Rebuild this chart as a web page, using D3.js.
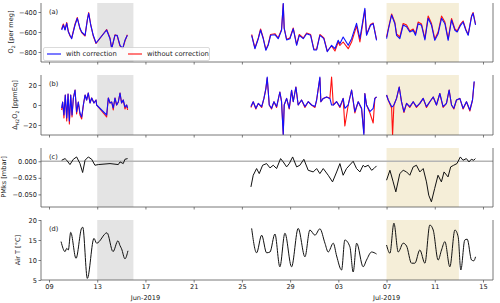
<!DOCTYPE html>
<html>
<head>
<meta charset="utf-8">
<script src="https://cdn.jsdelivr.net/npm/d3@7"></script>
<style>
body { margin: 0; background: #fff; }
svg { display: block; font-family: "DejaVu Sans", sans-serif; }
</style>
</head>
<body>
<div id="chart"></div>
<script>
// days are counted as day-of-June 2019 (July 1 = 31); null = gap in the record
var tickDays = [9, 13, 17, 21, 25, 29, 33, 37, 41, 45];
var tickLabels = ["09", "13", "17", "21", "25", "29", "03", "07", "11", "15"];
var monthDays = [17, 37];
var monthLabels = ["Jun-2019", "Jul-2019"];
var greySpan = [13, 16];
var tanSpan = [37, 43];

var o2Days = [10.05, 10.19, 10.33, 10.47, 10.60, 10.74, 10.88, 11.02, 11.16, 11.35, 11.57, 11.71, 11.99, 12.18, 12.29, 12.46, 12.67, 12.90, 13.78, 14.06, 14.20, 14.47, 14.66, 14.89, 15.11, 15.30, 15.50,
    20,
    25.81, 26.08, 26.36, 26.55, 26.77, 26.99, 27.18, 27.38, 27.74, 28.01, 28.29, 28.43, 28.51, 28.71, 28.98, 29.26, 29.54, 29.76, 30.09, 30.37, 30.70, 30.97, 31.20, 31.47, 31.80, 32.08, 32.44, 32.72, 32.99, 33.13, 33.40, 33.82, 34.10, 34.51, 34.79, 35.20, 35.34, 35.67, 35.89, 36.17,
    36.6,
    37.00, 37.14, 37.42, 37.69, 37.83, 38.10, 38.38, 38.66, 38.93, 39.21, 39.40, 39.62, 39.90, 40.18, 40.45, 40.73, 41.00, 41.28, 41.56, 41.84, 42.11, 42.39, 42.67, 42.86, 43.14, 43.35, 43.58, 43.77, 44.05, 44.18, 44.38];
var o2With = [-580, -530, -580, -513, -597, -633, -667, -597, -530, -463, -563, -600, -633, -480, -413, -530, -633, -710, -580, -667, -763, -633, -633, -733, -763, -683, -633,
    null,
    -633, -767, -667, -580, -667, -783, -733, -633, -627, -667, -583, -313, -567, -680, -667, -567, -733, -633, -667, -617, -633, -780, -780, -633, -667, -797, -733, -767, -683, -717, -650, -733, -667, -513, -667, -363, -633, -533, -517, -683,
    null,
    -667, -580, -430, -517, -633, -667, -530, -547, -600, -583, -633, -517, -533, -680, -463, -533, -683, -617, -463, -517, -683, -480, -583, -600, -533, -500, -583, -633, -447, -413, -530];
var o2Without = [-570, -520, -575, -505, -590, -640, -660, -590, -520, -455, -570, -605, -640, -475, -405, -525, -640, -715, -575, -660, -770, -628, -640, -740, -770, -690, -628,
    null,
    -625, -760, -660, -570, -660, -775, -725, -625, -617, -660, -575, -320, -560, -672, -660, -560, -725, -625, -660, -610, -625, -772, -772, -625, -660, -790, -740, -790, -700, -735, -700, -767, -700, -540, -700, -380, -625, -525, -510, -675,
    null,
    -650, -570, -420, -505, -620, -650, -515, -530, -590, -570, -620, -500, -520, -665, -440, -515, -670, -600, -440, -500, -670, -465, -570, -590, -520, -490, -575, -625, -440, -405, -520];

var dDays = [10.05, 10.13, 10.24, 10.35, 10.47, 10.58, 10.69, 10.80, 10.91, 11.02, 11.16, 11.29, 11.43, 11.57, 11.71, 11.85, 11.99, 12.12, 12.26, 12.40, 12.54, 12.73, 12.90, 12.95, 13.78, 13.92, 14.06, 14.20, 14.33, 14.47, 14.61, 14.75, 14.89, 15.02, 15.16, 15.30, 15.44, 15.52,
    20,
    25.75, 25.94, 26.16, 26.36, 26.64, 26.83, 26.99, 27.10, 27.27, 27.46, 27.66, 27.88, 28.15, 28.29, 28.43, 28.51, 28.71, 28.93, 29.12, 29.26, 29.48, 29.67, 29.95, 30.23, 30.50, 30.78, 31.06, 31.20, 31.47, 31.55, 31.75, 32.03, 32.30, 32.44, 32.58, 32.86, 33.13, 33.40, 33.54, 33.82, 34.10, 34.37, 34.65, 34.93, 35.12, 35.20, 35.34, 35.62, 35.89, 36.03, 36.17,
    36.6,
    37.00, 37.14, 37.42, 37.50, 37.61, 37.83, 38.05, 38.24, 38.44, 38.66, 38.93, 39.21, 39.48, 39.76, 40.04, 40.31, 40.59, 40.87, 41.14, 41.42, 41.69, 41.97, 42.19, 42.39, 42.58, 42.80, 43.08, 43.35, 43.63, 43.91, 44.13, 44.27];
var dWith = [-3, 3, -10, 10, -13, 11, -16, 10, -10, 7, 15, -7, 3, -8, -12, 0, 10, 5, 12, 2, 7, 2, 5, 0, -10, 7, 2, 3, -3, 7, 0, 3, 12, 2, 5, -2, 0, -3,
    null,
    -1.6, 3.3, -3.3, 1.6, -1.6, 6.6, 16.4, 28, 0, -3.3, 3.3, -1.6, 13, 3.3, -30, 0, 6.6, -3.3, 14.8, 3.3, 18, 0, 5, -1.6, 3.3, 0, -1.6, 5, 28, 3.3, 6.6, 8, 6.6, 0, 0, 3.3, -1.6, 6.6, -3.3, 0, 15, -6.6, 3.3, -3.3, -30, 11.5, 0, -6.6, -3.3, 6.6, 8,
    null,
    10, 5, -1.6, -1.6, 0, 6.6, 18, 3.3, -6.6, 1.6, -1.6, 3.3, -1.6, 1.6, 6.6, -1.6, 3.3, 8, 0, 11.5, -1.6, 1.6, 15, 0, -3.3, 5, 6.6, -3.3, 3.3, -5, 5, 23.7];
var dWithout = [-5, 3, -13, 10, -16, 11, -19, 10, -12, 7, 15, -9, 3, -10, -14, 0, 10, 5, 12, 2, 7, 2, 5, 0, -12, 7, 2, 3, -5, 7, 0, 3, 12, 2, 5, -4, 0, -5,
    null,
    -2.5, 3.3, -4, 1.6, -2.5, 6.6, 16.4, 27, 0, -4, 3.3, -2.5, 13, 3.3, -29, 0, 6.6, -4, 14.8, 3.3, 18, 0, 5, -2.5, 3.3, 0, -2.5, 5, 27, 3.3, 6.6, 8, 6.6, 28, 0, 3.3, -2.5, 6.6, -21, 0, 15, -8, 3.3, -4, -28, 11.5, 0, -8, -18, 6.6, 8,
    null,
    10, 5, -3, -30, 0, 6.6, 18, 3.3, -7.5, 1.6, -2.5, 3.3, -2.5, 1.6, 6.6, -2.5, 3.3, 8, 0, 11.5, -2.5, 1.6, 15, 0, -4, 5, 6.6, -4, 3.3, -6, 5, 23];

var pmDays = [10.05, 10.33, 10.47, 10.74, 11.02, 11.29, 11.57, 11.79, 11.99, 12.26, 12.54, 12.81, 13.09, 14.06, 14.75, 14.89, 15.16, 15.30, 15.52,
    20,
    25.75, 25.94, 26.22, 26.44, 26.72, 27.05, 27.33, 27.60, 27.88, 28.21, 28.43, 28.71, 28.93, 29.21, 29.54, 29.81, 30.14, 30.50, 30.92, 31.20, 31.47, 31.75, 32.16, 32.52, 32.86, 33.13, 33.40, 33.68, 34.23, 34.51, 34.79, 35.06, 35.20, 35.48, 35.76, 35.95, 36.17,
    36.6,
    37.00, 37.28, 37.55, 37.77, 38.10, 38.38, 38.66, 38.93, 39.21, 39.48, 39.76, 40.04, 40.31, 40.50, 40.72, 40.99, 41.27, 41.55, 41.77, 42.10, 42.32, 42.57, 42.84, 43.12, 43.34, 43.62, 43.84, 44.03, 44.23, 44.37];
var pmValues = [0.0015, 0.004, 0.0015, -0.005, 0.003, 0.0065, -0.0035, -0.017, 0.0015, 0.0065, 0.003, -0.006, -0.005, -0.0035, -0.005, -0.001, -0.0035, 0.003, 0.004,
    null,
    -0.0387, -0.0211, -0.0110, -0.0186, -0.0060, -0.0035, -0.0100, -0.0060, -0.0110, 0.0040, -0.0010, -0.0085, -0.0035, 0.0065, -0.0085, -0.0060, 0.0030, -0.0136, -0.0161, -0.0110, -0.0186, -0.0110, -0.0211, -0.0311, -0.0161, -0.0035, -0.0211, -0.0110, 0.0000, -0.0110, -0.0161, -0.0060, -0.0085, -0.0060, -0.0136, -0.0110, -0.0070,
    null,
    -0.0286, -0.0136, -0.0311, -0.0462, -0.0186, -0.0136, -0.0161, -0.0211, -0.0085, -0.0060, -0.0161, -0.0110, -0.0311, -0.0512, -0.0612, -0.0412, -0.0211, -0.0311, -0.0161, -0.0236, -0.0085, -0.0060, -0.0035, 0.0065, 0.0015, 0.0040, -0.0010, 0.0030, 0.0015, 0.0040];

var airDays = [10.00, 10.33, 10.47, 10.60, 10.80, 11.24, 11.71, 11.80, 12.18, 12.73, 12.95, 13.81, 14.31, 14.72, 14.89, 15.02, 15.30, 15.55,
    20,
    25.81, 26.22, 26.64, 27.05, 27.33, 27.74, 28.15, 28.57, 29.12, 29.67, 30.23, 30.64, 31.06, 31.47, 31.89, 32.16, 32.58, 32.86, 33.27, 33.54, 33.96, 34.23, 34.52, 35.06, 35.34, 35.76, 36.17,
    36.6,
    37.00, 37.28, 37.61, 37.97, 38.38, 38.66, 39.07, 39.35, 39.76, 40.18, 40.59, 40.87, 41.28, 41.56, 41.84, 42.25, 42.67, 42.94, 43.16, 43.49, 43.69, 44.05, 44.24, 44.38];
var airValues = [14.6, 12.1, 12.9, 12.5, 16.9, 10.4, 18.0, 18.2, 5.4, 15.4, 14.2, 16.8, 12.1, 14.8, 13.6, 12.8, 10.3, 12.3,
    null,
    17.9, 11.8, 16.2, 11.8, 12.0, 16.5, 8.3, 16.7, 8.3, 17.9, 10.8, 17.5, 16.2, 17.8, 14.2, 12.0, 14.2, 11.0, 7.5, 15.0, 13.3, 7.0, 14.2, 8.3, 10.0, 12.0, 11.5,
    null,
    13.75, 11.7, 19.2, 12.0, 14.2, 13.5, 9.2, 9.2, 12.5, 9.2, 18.75, 17.5, 10.0, 12.5, 14.6, 8.3, 17.5, 15.8, 7.5, 15.0, 15.2, 10.0, 9.8, 10.8];

function toDate(d) {
    return new Date(Date.UTC(2019, 5, 1) + (d - 1) * 864e5);
}

function zip(days, vals) {
    return days.map(function(d, i) { return {t: toDate(d), v: vals[i]}; });
}

var fs = 6.6;
var ink = "#222";

var svg = d3.select("#chart").append("svg")
    .attr("width", 500)
    .attr("height", 303);

var x = d3.scaleUtc()
    .domain([toDate(8.336), toDate(45.83)])
    .range([41, 493]);

var panels = [
    {top: 3, bottom: 62, domain: [-900, -310], ticks: [-800, -600, -400], fmt: d3.format("d"), tag: "(a)", labelX: 13},
    {top: 75, bottom: 135, domain: [-30, 30], ticks: [-20, 0, 20], fmt: d3.format("d"), tag: "(b)", labelX: 17},
    {top: 148, bottom: 207, domain: [-0.069, 0.020], ticks: [-0.05, -0.025, 0], fmt: d3.format(".3f"), tag: "(c)", labelX: 6},
    {top: 220, bottom: 280, domain: [5, 20], ticks: [5, 10, 15, 20], fmt: d3.format("d"), tag: "(d)", labelX: 20}
];

var series = [
    [{data: zip(o2Days, o2Without), color: "#ff1010", w: 1.1}, {data: zip(o2Days, o2With), color: "#1010ff", w: 1.1}],
    [{data: zip(dDays, dWithout), color: "#ff1010", w: 1.1}, {data: zip(dDays, dWith), color: "#1010ff", w: 1.1}],
    [{data: zip(pmDays, pmValues), color: "#111", w: 1}],
    [{data: zip(airDays, airValues), color: "#111", w: 1, curve: d3.curveMonotoneX}]
];

panels.forEach(function(p, k) {
    var y = d3.scaleLinear().domain(p.domain).range([p.bottom, p.top]);
    var g = svg.append("g");

    g.append("clipPath").attr("id", "clip" + k)
        .append("rect")
        .attr("x", 41).attr("y", p.top)
        .attr("width", 452).attr("height", p.bottom - p.top);

    g.append("rect")
        .attr("x", x(toDate(greySpan[0])))
        .attr("y", p.top)
        .attr("width", x(toDate(greySpan[1])) - x(toDate(greySpan[0])))
        .attr("height", p.bottom - p.top)
        .attr("fill", "#e4e4e4");
    g.append("rect")
        .attr("x", x(toDate(tanSpan[0])))
        .attr("y", p.top)
        .attr("width", x(toDate(tanSpan[1])) - x(toDate(tanSpan[0])))
        .attr("height", p.bottom - p.top)
        .attr("fill", "#f5eed8");

    if (k == 2) {
        g.append("line")
            .attr("x1", 41).attr("x2", 493)
            .attr("y1", y(0)).attr("y2", y(0))
            .attr("stroke", "#b5b5b5")
            .attr("stroke-width", 1.3);
    }

    series[k].forEach(function(s) {
        var line = d3.line()
            .defined(function(d) { return d.v != null; })
            .x(function(d) { return x(d.t); })
            .y(function(d) { return y(d.v); });
        if (s.curve) line.curve(s.curve);
        g.append("path")
            .datum(s.data)
            .attr("clip-path", "url(#clip" + k + ")")
            .attr("fill", "none")
            .attr("stroke", s.color)
            .attr("stroke-width", s.w)
            .attr("stroke-linejoin", "round")
            .attr("d", line);
    });

    // y axis
    var ya = g.append("g")
        .attr("transform", "translate(41,0)")
        .call(d3.axisLeft(y).tickValues(p.ticks).tickFormat(p.fmt).tickSize(2.5).tickPadding(1.5));
    ya.select(".domain").remove();
    ya.selectAll("line").attr("stroke", "#444").attr("stroke-width", 0.7);
    ya.selectAll("text").attr("font-size", fs).attr("fill", ink).attr("font-family", "DejaVu Sans");

    // x axis
    var xa = g.append("g")
        .attr("transform", "translate(0," + p.bottom + ")")
        .call(d3.axisBottom(x)
            .tickValues(tickDays.map(toDate))
            .tickFormat(function(d, i) { return k == 3 ? tickLabels[i] : ""; })
            .tickSize(2.5).tickPadding(1.5));
    xa.select(".domain").remove();
    xa.selectAll("line").attr("stroke", "#444").attr("stroke-width", 0.7);
    xa.selectAll("text").attr("font-size", fs).attr("fill", ink).attr("font-family", "DejaVu Sans");

    // spines
    g.append("path")
        .attr("d", "M41," + p.top + "V" + p.bottom + "H493V" + p.top)
        .attr("fill", "none")
        .attr("stroke", "#555")
        .attr("stroke-width", 0.8);

    g.append("text")
        .attr("x", 49).attr("y", p.top + 11)
        .attr("font-size", fs).attr("fill", ink)
        .text(p.tag);
});

// y labels
function yLabel(xc, yc, parts) {
    var t = svg.append("text")
        .attr("transform", "translate(" + xc + "," + yc + ") rotate(-90)")
        .attr("text-anchor", "middle")
        .attr("font-size", fs)
        .attr("fill", ink);
    parts.forEach(function(pt) {
        var s = t.append("tspan").text(pt[0]);
        if (pt[1]) s.attr("font-size", 4.6).attr("dy", 1.5);
        if (pt[2]) s.attr("dy", -1.5);
    });
}
yLabel(panels[0].labelX, 32, [["O"], ["2", true], [" [per meg]", false, true]]);
yLabel(panels[1].labelX, 105, [["Δ"], ["H2", true], ["O", false, true], ["2", true], [" [ppmEq]", false, true]]);
yLabel(panels[2].labelX, 177, [["PMks [mbar]"]]);
yLabel(panels[3].labelX, 250, [["Air T [°C]"]]);

// month labels
svg.selectAll(".month")
    .data(monthDays)
    .enter()
    .append("text")
    .attr("class", "month")
    .attr("x", function(d) { return x(toDate(d)); })
    .attr("y", 300)
    .attr("text-anchor", "middle")
    .attr("font-size", fs)
    .attr("fill", ink)
    .text(function(d, i) { return monthLabels[i]; });

// legend
var lg = svg.append("g");
lg.append("rect")
    .attr("x", 43.5).attr("y", 47.5)
    .attr("width", 166).attr("height", 13)
    .attr("rx", 1.5)
    .attr("fill", "#fff").attr("fill-opacity", 0.85)
    .attr("stroke", "#ccc").attr("stroke-width", 0.7);
var legendItems = [{label: "with correction", color: "#1010ff", x: 47}, {label: "without correction", color: "#ff1010", x: 128}];
legendItems.forEach(function(it) {
    lg.append("line")
        .attr("x1", it.x).attr("x2", it.x + 14)
        .attr("y1", 54).attr("y2", 54)
        .attr("stroke", it.color).attr("stroke-width", 1.1);
    lg.append("text")
        .attr("x", it.x + 19).attr("y", 56.4)
        .attr("font-size", 6.8).attr("fill", ink)
        .text(it.label);
});
</script>
</body>
</html>
